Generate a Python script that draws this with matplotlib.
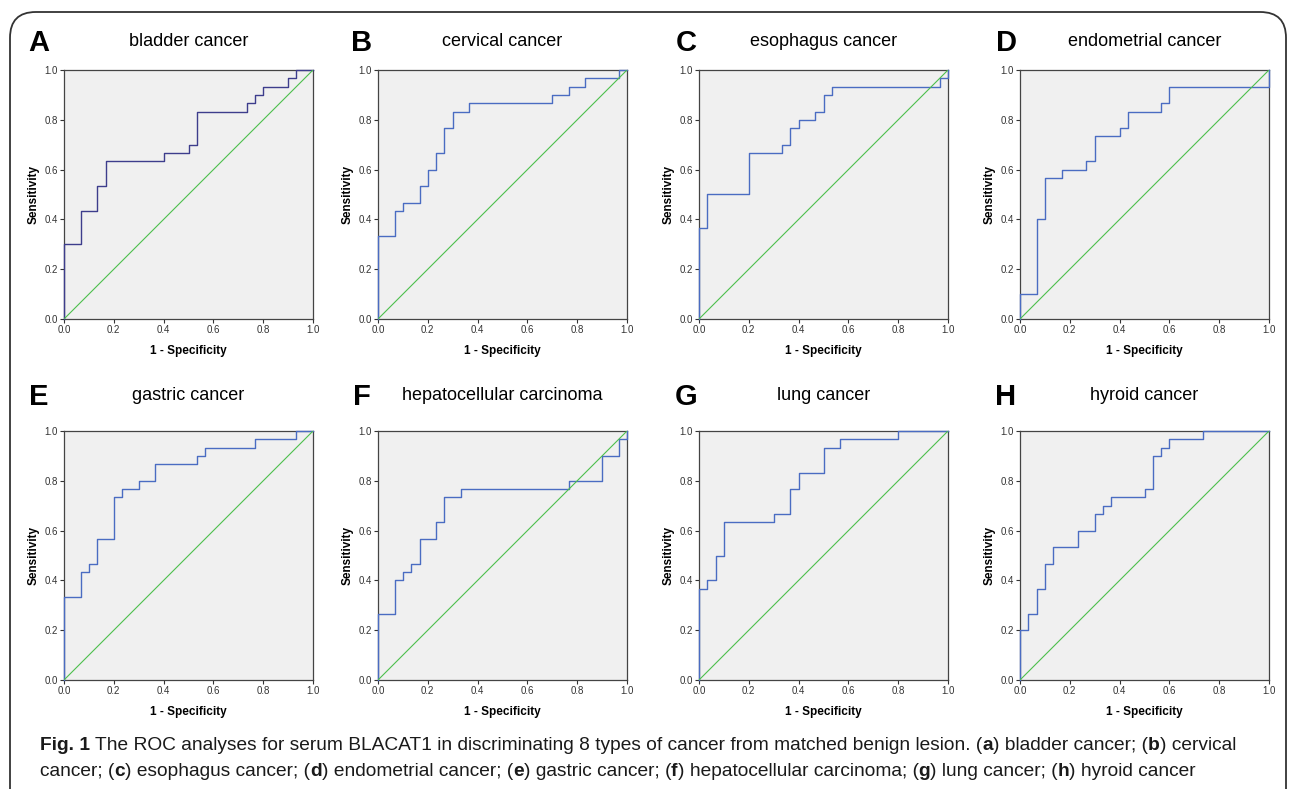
import matplotlib
matplotlib.use("Agg")
import matplotlib.pyplot as plt
from matplotlib.patches import FancyBboxPatch

plt.rcParams['font.family'] = ['Liberation Sans', 'DejaVu Sans']

# ROC step points (1 - specificity, sensitivity)
letters = ["A", "B", "C", "D", "E", "F", "G", "H"]
titles = ["bladder cancer", "cervical cancer", "esophagus cancer", "endometrial cancer",
          "gastric cancer", "hepatocellular carcinoma", "lung cancer", "hyroid cancer"]

fpr_a = [0, 0, 0.067, 0.133, 0.167, 0.4, 0.5, 0.533, 0.733, 0.767, 0.8, 0.9, 0.933, 1.0]
tpr_a = [0, 0.3, 0.433, 0.533, 0.633, 0.667, 0.7, 0.833, 0.867, 0.9, 0.933, 0.967, 1.0, 1.0]

fpr_b = [0, 0, 0.067, 0.1, 0.167, 0.2, 0.233, 0.267, 0.3, 0.367, 0.7, 0.767, 0.833, 0.967, 1.0]
tpr_b = [0, 0.333, 0.433, 0.467, 0.533, 0.6, 0.667, 0.767, 0.833, 0.867, 0.9, 0.933, 0.967, 1.0, 1.0]

fpr_c = [0, 0, 0.033, 0.2, 0.333, 0.367, 0.4, 0.467, 0.5, 0.533, 0.967, 1.0]
tpr_c = [0, 0.367, 0.5, 0.667, 0.7, 0.767, 0.8, 0.833, 0.9, 0.933, 0.967, 1.0]

fpr_d = [0, 0, 0.067, 0.1, 0.167, 0.267, 0.3, 0.4, 0.433, 0.567, 0.6, 1.0]
tpr_d = [0, 0.1, 0.4, 0.567, 0.6, 0.633, 0.733, 0.767, 0.833, 0.867, 0.933, 1.0]

fpr_e = [0, 0, 0.067, 0.1, 0.133, 0.2, 0.233, 0.3, 0.367, 0.533, 0.567, 0.767, 0.933, 1.0]
tpr_e = [0, 0.333, 0.433, 0.467, 0.567, 0.733, 0.767, 0.8, 0.867, 0.9, 0.933, 0.967, 1.0, 1.0]

fpr_f = [0, 0, 0.067, 0.1, 0.133, 0.167, 0.233, 0.267, 0.333, 0.767, 0.9, 0.967, 1.0]
tpr_f = [0, 0.267, 0.4, 0.433, 0.467, 0.567, 0.633, 0.733, 0.767, 0.8, 0.9, 0.967, 1.0]

fpr_g = [0, 0, 0.033, 0.067, 0.1, 0.3, 0.367, 0.4, 0.5, 0.567, 0.8, 1.0]
tpr_g = [0, 0.367, 0.4, 0.5, 0.633, 0.667, 0.767, 0.833, 0.933, 0.967, 1.0, 1.0]

fpr_h = [0, 0, 0.033, 0.067, 0.1, 0.133, 0.233, 0.3, 0.333, 0.367, 0.5, 0.533, 0.567, 0.6, 0.733, 1.0]
tpr_h = [0, 0.2, 0.267, 0.367, 0.467, 0.533, 0.6, 0.667, 0.7, 0.733, 0.767, 0.9, 0.933, 0.967, 1.0, 1.0]

fprs = [fpr_a, fpr_b, fpr_c, fpr_d, fpr_e, fpr_f, fpr_g, fpr_h]
tprs = [tpr_a, tpr_b, tpr_c, tpr_d, tpr_e, tpr_f, tpr_g, tpr_h]
ref_line = [0, 1]
ticks = [0.0, 0.2, 0.4, 0.6, 0.8, 1.0]

W, H = 1290, 789
fig = plt.figure(figsize=(W / 100, H / 100), dpi=100)

# rounded frame around the whole figure
frame = FancyBboxPatch((10 / W, -0.05), 1276 / W, 1 - 12 / H + 0.05,
                       boxstyle="round,pad=0,rounding_size=0.02",
                       transform=fig.transFigure, fill=False,
                       edgecolor="#333333", linewidth=1.3, mutation_aspect=W / H)
fig.patches.append(frame)

lefts = [64, 378, 699, 1020]
bottoms = [319, 680]
size = 249
letter_x = [39, 362, 686, 1006]
letter_y = [43, 397]
title_y = [41, 395]

for i in range(8):
    row, col = divmod(i, 4)
    ax = fig.add_axes([lefts[col] / W, 1 - bottoms[row] / H, size / W, size / H])
    ax.set_facecolor("#f0f0f0")
    color = "#3d3d8c" if i == 0 else "#4a6cc2"
    ax.plot(fprs[i], tprs[i], drawstyle="steps-post", color=color, lw=1.0,
            clip_on=False, zorder=3)
    ax.plot(ref_line, ref_line, color="#4cbf4c", lw=0.8, zorder=4)
    ax.set_xlim(0, 1)
    ax.set_ylim(0, 1)
    ax.set_xticks(ticks)
    ax.set_yticks(ticks)
    ax.set_xticklabels([f"{t:.1f}" for t in ticks])
    ax.set_yticklabels([f"{t:.1f}" for t in ticks])
    ax.tick_params(length=3, width=0.8, labelsize=7, colors="#333333", pad=1.5)
    for s in ax.spines.values():
        s.set_color("#444444")
        s.set_linewidth(0.9)
    ax.set_xlabel("1 - Specificity", fontsize=8.5, fontweight="bold", labelpad=7)
    ax.set_ylabel("Sensitivity", fontsize=8.5, fontweight="bold", labelpad=3)

    cx = (lefts[col] + size / 2) / W
    fig.text(cx, 1 - title_y[row] / H, titles[i], fontsize=13, ha="center", va="center")
    fig.text(letter_x[col] / W, 1 - letter_y[row] / H, letters[i], fontsize=21,
             fontweight="bold", ha="center", va="center")

# caption with bold parts
cap_font = ['Liberation Sans', 'DejaVu Sans']
line1 = [("Fig. 1", True),
         (" The ROC analyses for serum BLACAT1 in discriminating 8 types of cancer from matched benign lesion. (", False),
         ("a", True), (") bladder cancer; (", False), ("b", True), (") cervical", False)]
line2 = [("cancer; (", False), ("c", True), (") esophagus cancer; (", False), ("d", True),
         (") endometrial cancer; (", False), ("e", True), (") gastric cancer; (", False),
         ("f", True), (") hepatocellular carcinoma; (", False), ("g", True),
         (") lung cancer; (", False), ("h", True), (") hyroid cancer", False)]

renderer = fig.canvas.get_renderer()
for line, y in [(line1, 746), (line2, 771)]:
    x = 40 / W
    for txt, bold in line:
        t = fig.text(x, 1 - y / H, txt, fontsize=13.8, family=cap_font,
                     fontweight="bold" if bold else "normal",
                     color="#1a1a1a", ha="left", va="center")
        x += t.get_window_extent(renderer).width / W

fig.savefig("out.png", dpi=100)
